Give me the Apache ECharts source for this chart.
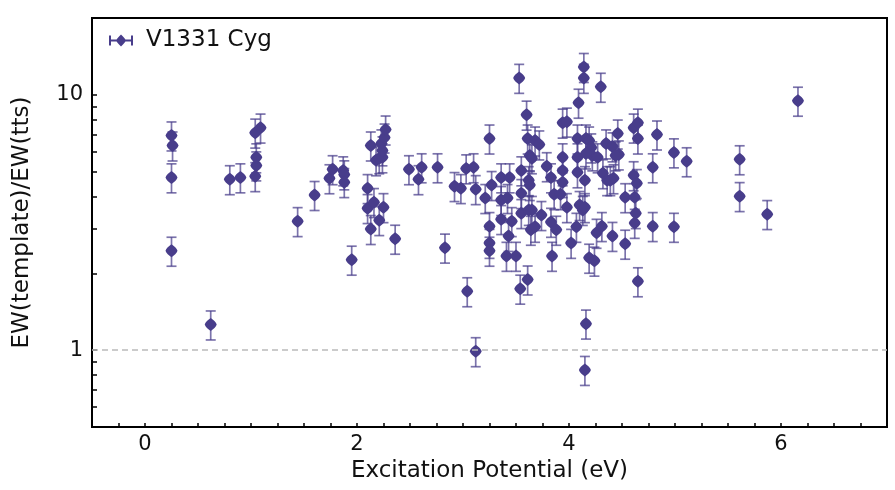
<!DOCTYPE html>
<html>
<head>
<meta charset="utf-8">
<script src="https://cdn.jsdelivr.net/npm/echarts@6/dist/echarts.min.js"></script>
<style>
html,body{margin:0;padding:0;background:#fff;}
#chart{width:895px;height:490px;}
</style>
</head>
<body>
<div id="chart"></div>
<script>
// Excitation potential (eV)
const epX = [
  0.25, 0.26, 0.25, 0.25, 0.62, 0.80, 0.90, 1.04, 1.05, 1.05, 1.04, 1.09,
  1.44, 1.60, 1.74, 1.77, 1.87, 1.88, 1.88, 1.95, 2.10, 2.10, 2.13, 2.16,
  2.21, 2.25, 2.36, 2.13, 2.18, 2.21, 2.24, 2.23, 2.26, 2.27, 2.24, 2.49,
  2.58, 2.61, 2.76, 2.83, 2.92, 2.98, 3.03, 3.10, 3.12, 3.04, 3.12, 3.25,
  3.21, 3.27, 3.25, 3.25, 3.25, 3.36, 3.36, 3.36, 3.44, 3.42, 3.46, 3.43,
  3.41, 3.50, 3.53, 3.60, 3.55, 3.55, 3.55, 3.54, 3.61, 3.61, 3.63, 3.65,
  3.62, 3.63, 3.62, 3.65, 3.64, 3.68, 3.68, 3.72, 3.74, 3.79, 3.83, 3.83,
  3.88, 3.84, 3.86, 3.92, 3.94, 3.94, 3.94, 3.94, 3.98, 3.98, 4.02, 4.07,
  4.08, 4.09, 4.08, 4.10, 4.13, 4.15, 4.14, 4.14, 4.16, 4.15, 4.16, 4.19,
  4.21, 4.22, 4.16, 4.15, 4.19, 4.24, 4.26, 4.31, 4.30, 4.32, 4.36, 4.35,
  4.41, 4.41, 4.46, 4.47, 4.42, 4.53, 4.53, 4.61, 4.65, 4.65, 4.61, 4.64,
  4.62, 4.63, 4.62, 4.65, 4.79, 4.79, 4.83, 4.99, 4.99, 5.11, 5.61, 5.61,
  5.87, 6.16, 4.08, 4.27, 4.44, 4.39
];
// EW(template)/EW(tts)
const ewRatio = [
  6.93, 6.33, 4.75, 2.45, 1.26, 4.67, 4.75, 4.80, 5.29, 5.69, 7.11, 7.44,
  3.20, 4.05, 4.71, 5.11, 5.06, 4.88, 4.55, 2.26, 4.31, 3.60, 2.98, 3.80,
  3.23, 3.63, 2.73, 6.33, 5.54, 5.64, 5.69, 6.45, 6.80, 7.31, 6.06, 5.11,
  4.67, 5.20, 5.20, 2.52, 4.39, 4.31, 5.15, 5.20, 4.27, 1.70, 0.99, 6.74,
  3.94, 4.43, 3.06, 2.63, 2.45, 4.75, 3.87, 3.26, 4.75, 3.94, 3.20, 2.80,
  2.34, 2.34, 11.65, 8.36, 5.06, 4.12, 3.44, 1.74, 1.89, 6.74, 5.79, 5.64,
  4.63, 4.43, 3.54, 3.54, 2.96, 3.04, 6.62, 6.39, 3.38, 5.25, 4.75, 3.18,
  2.96, 2.34, 4.08, 4.08, 5.69, 5.06, 4.55, 7.78, 7.85, 3.63, 2.63, 3.04,
  6.74, 9.31, 4.97, 3.70, 3.54, 3.63, 12.85, 11.65, 1.27, 0.836, 6.74, 6.62,
  6.22, 5.79, 5.89, 4.63, 2.30, 2.24, 2.88, 3.06, 10.75, 4.93, 4.63, 6.45,
  2.80, 6.28, 7.05, 5.84, 4.71, 3.97, 2.61, 7.44, 7.78, 6.74, 4.84, 4.51,
  3.97, 3.44, 3.15, 1.86, 3.06, 5.20, 6.99, 5.95, 3.04, 5.49, 5.59, 4.01,
  3.41, 9.48, 5.69, 5.69, 5.79, 4.63
];
// relative 1-sigma uncertainty read from the error-bar lengths
const relErr = 0.13;
const xTickLabels = [0, 2, 4, 6];
const yTickLabels = [1, 10];
const yMinorTicks = [0.6, 0.7, 0.8, 0.9, 1, 2, 3, 4, 5, 6, 7, 8, 9, 10, 20];
const seriesName = 'V1331 Cyg';

const xMinor = [];
for (let v = -0.25; v < 7; v += 0.25) xMinor.push(Math.round(v * 100) / 100);

const pts = epX.map((x, i) => [x, ewRatio[i]]);
const errs = epX.map((x, i) => [x, ewRatio[i] * (1 - relErr), ewRatio[i] * (1 + relErr)]);

const mainColor = '#483D8B';
const errColor = 'rgba(72,61,139,0.72)';
const fontFam = '"DejaVu Sans", Verdana, sans-serif';
const markerPath = 'path://M5,0 C7.2,1.5 9.5,3 10,5 C9.5,7 7.2,8.5 5,10 C2.8,8.5 0.5,7 0,5 C0.5,3 2.8,1.5 5,0Z';

const chart = echarts.init(document.getElementById('chart'), null, {renderer: 'canvas'});
chart.setOption({
  animation: false,
  backgroundColor: '#fff',
  color: [mainColor],
  textStyle: {fontFamily: fontFam},
  grid: {left: 92, right: 8, top: 18, bottom: 63, show: true, borderColor: '#000', borderWidth: 2, backgroundColor: 'transparent'},
  legend: {
    left: 104, top: 24,
    itemWidth: 24, itemHeight: 12,
    data: [{name: seriesName, icon: 'path://M0,5H24V7H0Z M0,1H2V11H0Z M22,1H24V11H22Z M12,0 C14,2 16,4 17,6 C16,8 14,10 12,12 C10,10 8,8 7,6 C8,4 10,2 12,0Z', itemStyle: {color: mainColor}}],
    textStyle: {fontSize: 23, color: '#111', fontFamily: fontFam, padding: [0, 0, 0, 8]}
  },
  xAxis: {
    type: 'value', min: -0.5, max: 7,
    name: 'Excitation Potential (eV)', nameLocation: 'middle', nameGap: 33,
    nameTextStyle: {fontSize: 23, color: '#111', fontFamily: fontFam},
    axisLine: {show: true, onZero: false, lineStyle: {color: '#000', width: 2}},
    axisTick: {show: true, inside: true, length: 4, customValues: xMinor, lineStyle: {color: '#000', width: 1.5}},
    axisLabel: {fontSize: 21, color: '#111', margin: 7, customValues: xTickLabels, fontFamily: fontFam},
    splitLine: {show: false}
  },
  yAxis: {
    type: 'log', logBase: 10, min: 0.5, max: 20,
    name: 'EW(template)/EW(tts)', nameLocation: 'middle', nameGap: 58,
    nameTextStyle: {fontSize: 23, color: '#111', fontFamily: fontFam},
    axisLine: {show: true, onZero: false, lineStyle: {color: '#000', width: 2}},
    axisTick: {show: true, inside: true, length: 5, customValues: yMinorTicks, lineStyle: {color: '#000', width: 1.5}},
    axisLabel: {fontSize: 21, color: '#111', margin: 9, customValues: yTickLabels, fontFamily: fontFam},
    splitLine: {show: false}
  },
  series: [
    {
      type: 'custom',
      name: seriesName,
      data: errs,
      encode: {x: 0, y: [1, 2]},
      z: 2,
      silent: true,
      itemStyle: {color: mainColor},
      renderItem: function (params, api) {
        const x = api.value(0);
        const lo = api.coord([x, api.value(1)]);
        const hi = api.coord([x, api.value(2)]);
        const w = 5;
        const st = {stroke: errColor, lineWidth: 1.7};
        return {
          type: 'group',
          children: [
            {type: 'line', shape: {x1: hi[0], y1: hi[1], x2: lo[0], y2: lo[1]}, style: st},
            {type: 'line', shape: {x1: hi[0] - w, y1: hi[1], x2: hi[0] + w, y2: hi[1]}, style: st},
            {type: 'line', shape: {x1: lo[0] - w, y1: lo[1], x2: lo[0] + w, y2: lo[1]}, style: st}
          ]
        };
      }
    },
    {
      type: 'scatter',
      name: seriesName,
      data: pts,
      z: 3,
      symbol: markerPath,
      symbolSize: [12, 13],
      itemStyle: {color: mainColor, opacity: 1},
      markLine: {
        silent: true, symbol: 'none', label: {show: false},
        lineStyle: {type: [6, 4], color: '#bbbbbb', width: 1.5},
        data: [{yAxis: 1}]
      }
    }
  ]
});
</script>
</body>
</html>
